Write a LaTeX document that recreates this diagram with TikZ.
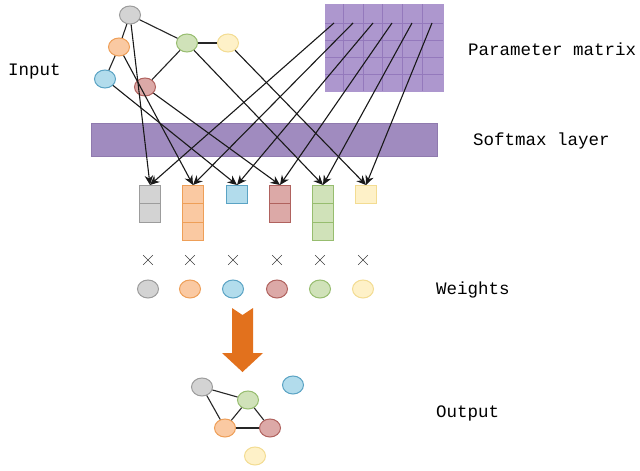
\documentclass[tikz,border=0pt]{standalone}
\usepackage{fontspec}
\setmonofont{Liberation Mono}
\usetikzlibrary{shapes.geometric, shapes.misc, arrows.meta, positioning}

\definecolor{grayF}{HTML}{D3D3D3}\definecolor{grayD}{HTML}{9C9C9C}
\definecolor{orangeF}{HTML}{FAC9A2}\definecolor{orangeD}{HTML}{EE9F58}
\definecolor{blueF}{HTML}{B2DCEC}\definecolor{blueD}{HTML}{5AA3C4}
\definecolor{redF}{HTML}{DCA9A7}\definecolor{redD}{HTML}{B0625E}
\definecolor{greenF}{HTML}{D0E2B9}\definecolor{greenD}{HTML}{97BD6F}
\definecolor{yellowF}{HTML}{FEF1C8}\definecolor{yellowD}{HTML}{F3DC92}
\definecolor{smF}{HTML}{A08BBF}\definecolor{smD}{HTML}{8F7AAE}
\definecolor{pmF}{HTML}{AD97CE}\definecolor{pmD}{HTML}{9479BC}
\definecolor{bigarrow}{HTML}{E2711D}

\begin{document}
\begin{tikzpicture}[
  x=1pt, y=-1pt,
  font=\ttfamily\fontsize{17.5}{20}\selectfont,
  vtx/.style={draw, ellipse, line width=1pt, minimum width=21pt,
              minimum height=18pt, inner sep=0pt},
  cell/.style={draw, line width=1pt, minimum width=21pt,
               minimum height=18.5pt, inner sep=0pt, outer sep=0pt},
  cgray/.style={fill=grayF, draw=grayD},
  corange/.style={fill=orangeF, draw=orangeD},
  cblue/.style={fill=blueF, draw=blueD},
  cred/.style={fill=redF, draw=redD},
  cgreen/.style={fill=greenF, draw=greenD},
  cyellow/.style={fill=yellowF, draw=yellowD},
  times/.style={cross out, draw=black!75, line width=0.6pt,
                minimum size=9pt, inner sep=0pt},
  lbl/.style={anchor=west, inner sep=0pt},
  edge/.style={draw=black!85, line width=1.1pt},
  mgrid/.style={draw=pmD, line width=0.5pt},
  ar/.style={-{Stealth[length=9.5pt,width=8.5pt]}, draw=black!90, line width=1.1pt}
]
\useasboundingbox (0,0) rectangle (640,471);
\fill[white] (0,0) rectangle (640,471);

% layers
\node[fill=smF, draw=smD, line width=0.4pt, minimum width=346pt,
      minimum height=33pt, inner sep=0pt] (sm) at (264,139.5) {};
\node[fill=pmF, draw=pmF, minimum width=118pt, minimum height=87pt,
      inner sep=0pt, outer sep=0pt] (pm) at (384,47.5) {};
\foreach \c in {343,363,382,402,422}
  \draw[mgrid] (\c,4) -- (\c,91);
\foreach \r in {23,40,57,74}
  \draw[mgrid] (325,\r) -- (443,\r);
\coordinate (p1) at (334,23);
\coordinate (p2) at (353,23);
\coordinate (p3) at (373,23);
\coordinate (p4) at (392,23);
\coordinate (p5) at (412,23);
\coordinate (p6) at (432,23);

% input graph
\node[vtx, cgray] (ingray) at (130,15) {};
\node[vtx, corange] (inorange) at (119,47) {};
\node[vtx, cgreen] (ingreen) at (187,43) {};
\node[vtx, cyellow] (inyellow) at (228,43) {};
\node[vtx, cblue] (inblue) at (105,79) {};
\node[vtx, cred] (inred) at (145,87) {};
\draw[edge] (ingray) -- (inorange);
\draw[edge] (ingray) -- (ingreen);
\draw[edge] (inorange) -- (inblue);
\draw[edge] (ingreen) -- (inred);
\draw[edge] (ingreen) -- (inyellow);

% stacked outputs of the softmax
\node[cell, cgray] (bgray1) at (150,194.25) {};
\node[cell, cgray, below=0pt of bgray1] (bgray2) {};
\node[cell, corange] (borange1) at (193,194.25) {};
\node[cell, corange, below=0pt of borange1] (borange2) {};
\node[cell, corange, below=0pt of borange2] (borange3) {};
\node[cell, cblue] (bblue1) at (237,194.25) {};
\node[cell, cred] (bred1) at (280,194.25) {};
\node[cell, cred, below=0pt of bred1] (bred2) {};
\node[cell, cgreen] (bgreen1) at (323,194.25) {};
\node[cell, cgreen, below=0pt of bgreen1] (bgreen2) {};
\node[cell, cgreen, below=0pt of bgreen2] (bgreen3) {};
\node[cell, cyellow] (byellow1) at (366,194.25) {};

\draw[ar] (ingray) -- (bgray1.north);
\draw[ar] (inorange) -- (borange1.north);
\draw[ar] (inblue) -- (bblue1.north);
\draw[ar] (inred) -- (bred1.north);
\draw[ar] (ingreen) -- (bgreen1.north);
\draw[ar] (inyellow) -- (byellow1.north);
\draw[ar] (p1) -- (bgray1.north);
\draw[ar] (p2) -- (borange1.north);
\draw[ar] (p3) -- (bblue1.north);
\draw[ar] (p4) -- (bred1.north);
\draw[ar] (p5) -- (bgreen1.north);
\draw[ar] (p6) -- (byellow1.north);

% weights
\node[times] (xgray) at (148,260) {};
\node[times] (xorange) at (190,260) {};
\node[times] (xblue) at (233,260) {};
\node[times] (xred) at (277,260) {};
\node[times] (xgreen) at (320,260) {};
\node[times] (xyellow) at (363,260) {};
\node[vtx, cgray] (wgray) at (148,289) {};
\node[vtx, corange] (worange) at (190,289) {};
\node[vtx, cblue] (wblue) at (233,289) {};
\node[vtx, cred] (wred) at (277,289) {};
\node[vtx, cgreen] (wgreen) at (320,289) {};
\node[vtx, cyellow] (wyellow) at (363,289) {};

\fill[bigarrow] (232,308) -- (242.5,315) -- (253,308) -- (253,353)
  -- (263,353) -- (242.5,372) -- (222,353) -- (232,353) -- cycle;

% output graph
\node[vtx, cgray] (outgray) at (202,387) {};
\node[vtx, cgreen] (outgreen) at (248,400) {};
\node[vtx, cblue] (outblue) at (293,385) {};
\node[vtx, corange] (outorange) at (225,428) {};
\node[vtx, cred] (outred) at (270,428) {};
\node[vtx, cyellow] (outyellow) at (255,456) {};
\draw[edge] (outgray) -- (outgreen);
\draw[edge] (outgray) -- (outorange);
\draw[edge] (outgreen) -- (outorange);
\draw[edge] (outgreen) -- (outred);
\draw[edge] (outorange) -- (outred);

% labels
\node[lbl] (tinput) at (8,71) {Input};
\node[lbl] (tmatrix) at (468,49) {Parameter matrix};
\node[lbl] (tsoftmax) at (473,141) {Softmax layer};
\node[lbl] (tweights) at (436,290) {Weights};
\node[lbl] (toutput) at (436,413) {Output};
\end{tikzpicture}
\end{document}
